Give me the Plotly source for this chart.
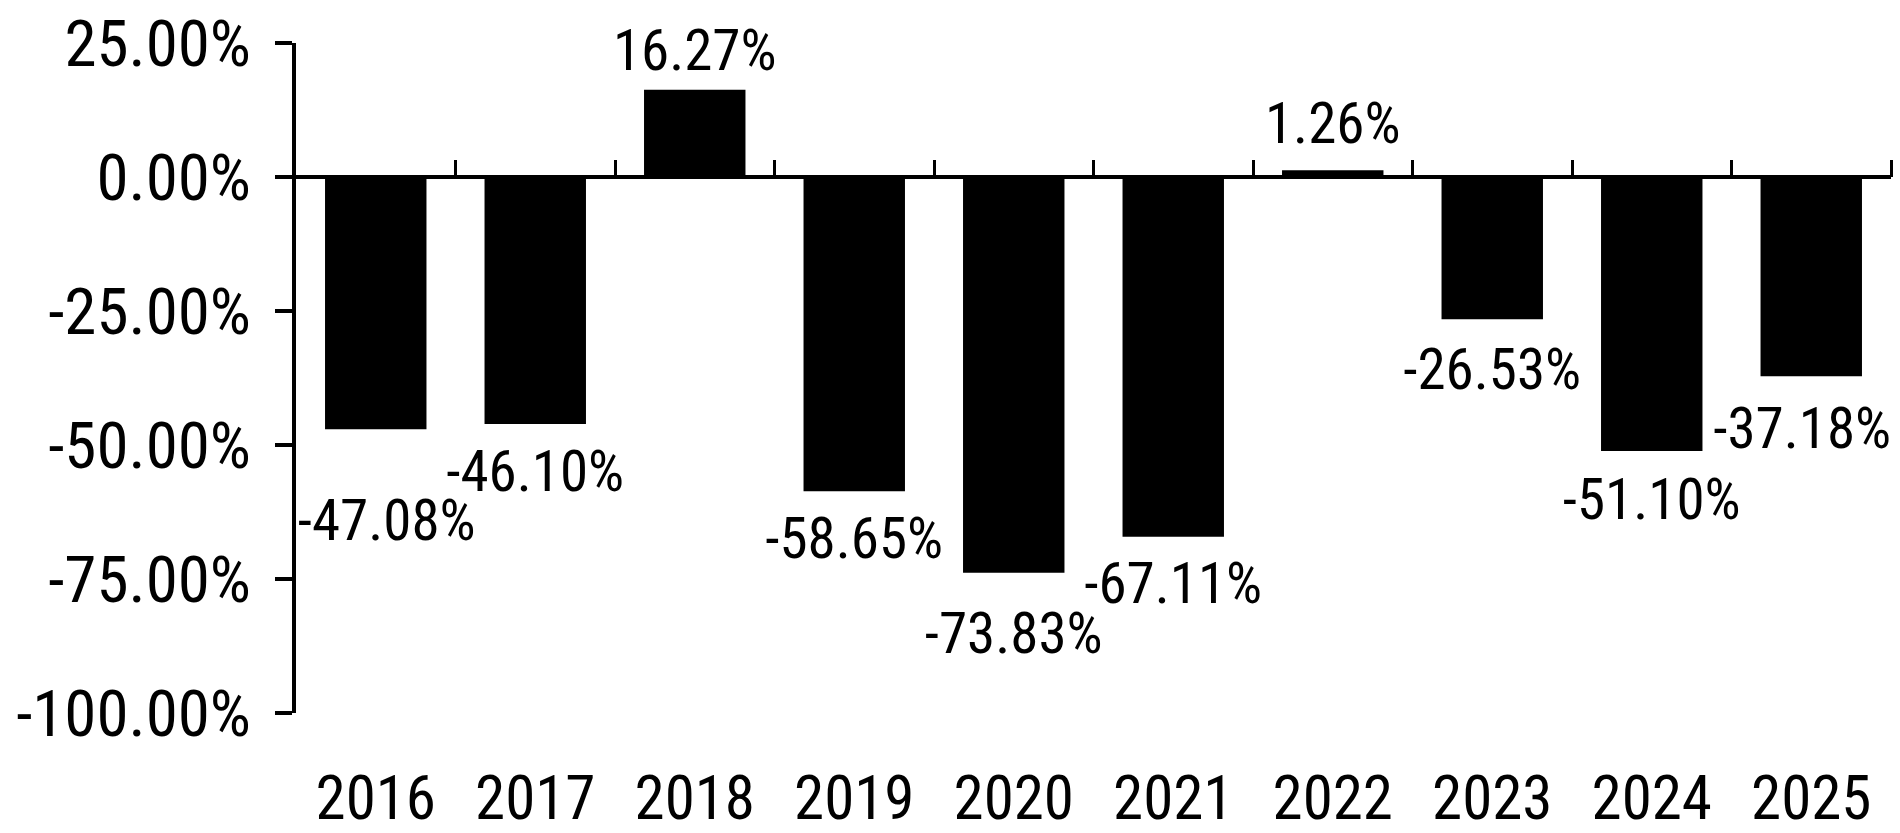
import plotly.graph_objects as go

years = ["2016", "2017", "2018", "2019", "2020", "2021", "2022", "2023", "2024", "2025"]
returns = [-47.08, -46.10, 16.27, -58.65, -73.83, -67.11, 1.26, -26.53, -51.10, -37.18]
y_tick_vals = [25, 0, -25, -50, -75, -100]
y_tick_text = ["25.00%", "0.00%", "-25.00%", "-50.00%", "-75.00%", "-100.00%"]

# label nudges (styling only, in pixels)
label_dx = [11, 0, 0, 0, 0, 0, 0, 0, 0, -9]
label_dy = [-96, -53, 34, -52, -66, -52, 42, -56, -54, -57]

FONT = "Liberation Sans Narrow, Arial Narrow, Roboto Condensed, Liberation Sans, sans-serif"

W, H = 1900, 833
M_L, M_R, M_T, M_B = 296, 9, 43, 120
Y_MIN, Y_MAX = -100, 25
px_per_unit = (H - M_T - M_B) / (Y_MAX - Y_MIN)
px_per_cat = (W - M_L - M_R) / len(years)

fig = go.Figure()
fig.add_trace(go.Bar(
    x=years, y=returns,
    marker=dict(color="#000000", line=dict(width=0)),
    hoverinfo="skip", showlegend=False,
))

# data labels, on the linear overlay axis aligned with the categories
lab_x = [i + dx / px_per_cat for i, dx in enumerate(label_dx)]
lab_y = [v + dy / px_per_unit for v, dy in zip(returns, label_dy)]
fig.add_trace(go.Scatter(
    x=lab_x, y=lab_y, xaxis="x2", yaxis="y",
    mode="text", text=[f"{v:.2f}%" for v in returns],
    textposition="middle center",
    textfont=dict(family=FONT, size=57, color="#000000"),
    cliponaxis=False, hoverinfo="skip", showlegend=False,
))

fig.update_layout(
    width=W, height=H,
    margin=dict(l=M_L, r=M_R, t=M_T, b=M_B, pad=0, autoexpand=False),
    paper_bgcolor="white", plot_bgcolor="white",
    bargap=0.364,
    font=dict(family=FONT, color="#000000"),
    xaxis=dict(
        type="category", range=[-0.5, 9.5], showline=False, showgrid=False,
        zeroline=False, ticks="", ticklabelstandoff=44, automargin=False,
        tickfont=dict(family=FONT, size=61, color="#000000"),
    ),
    xaxis2=dict(
        overlaying="x", anchor="free", position=(0 - Y_MIN) / (Y_MAX - Y_MIN), side="top",
        range=[-0.5, 9.5], tickmode="array",
        tickvals=[i + 0.5 for i in range(len(years))],
        ticks="outside", ticklen=17, tickwidth=3, tickcolor="#000000",
        showticklabels=False, showline=False, showgrid=False, zeroline=False,
        automargin=False,
    ),
    yaxis=dict(
        range=[Y_MIN, Y_MAX], tickmode="array", tickvals=y_tick_vals, ticktext=y_tick_text,
        showline=True, linewidth=4, linecolor="#000000",
        ticks="outside", ticklen=17, tickwidth=4, tickcolor="#000000",
        showgrid=False, zeroline=True, zerolinewidth=4, zerolinecolor="#000000",
        ticklabelstandoff=11, automargin=False,
        tickfont=dict(family=FONT, size=65, color="#000000"),
    ),
)

fig.write_html(
    "out.html",
    config={"displayModeBar": False, "staticPlot": True},
    post_script="document.body.style.margin='0';document.body.style.overflow='hidden';",
)
